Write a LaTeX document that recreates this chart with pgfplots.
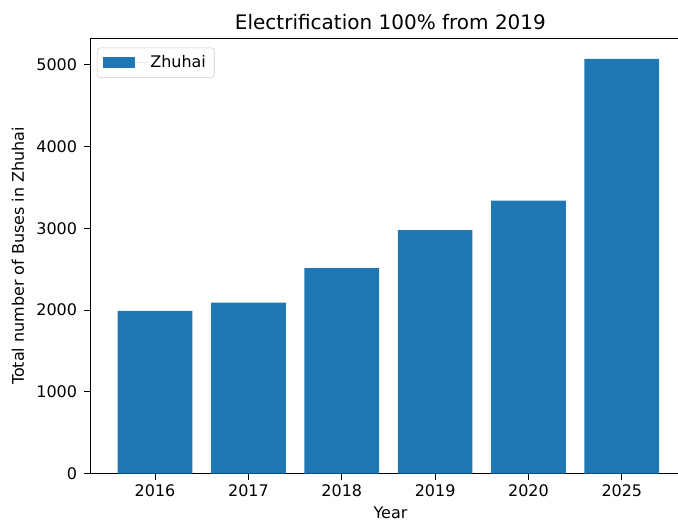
\documentclass[border=0pt]{standalone}
\usepackage{pgfplots}
\pgfplotsset{compat=1.18}
\usepackage{fontspec}
\setmainfont{DejaVu Sans}
\definecolor{barblue}{HTML}{1F77B4}
\begin{document}
\begin{tikzpicture}
\begin{axis}[
  at={(0pt,0pt)}, anchor=south west,
  scale only axis,
  width=432.7pt, height=313.7pt,
  xmin=-0.697, xmax=5.74,
  ymin=0, ymax=5325,
  axis lines*=left,
  axis line style={-, line width=0.7pt},
  xtick={0,1,2,3,4,5},
  xticklabels={2016,2017,2018,2019,2020,2025},
  ytick={0,1000,2000,3000,4000,5000},
  scaled y ticks=false,
  /pgf/number format/assume math mode=true,
  /pgf/number format/1000 sep={},
  tick align=outside,
  major tick length=4.3pt,
  tick style={black, line width=0.7pt},
  ticklabel style={font=\fontsize{11.5}{13}\selectfont},
  yticklabel style={xshift=-1.5pt},
  label style={font=\fontsize{11.5}{13}\selectfont},
  title style={font=\fontsize{14.4}{16}\selectfont, yshift=-3.5pt},
  title={Electrification 100\% from 2019},
  xlabel={Year},
  ylabel={Total number of Buses in Zhuhai},
  xlabel style={yshift=-0.5pt},
  ylabel style={yshift=2pt},
  legend style={at={(0.0115,0.978)}, anchor=north west, draw=black!20, rounded corners=2pt, font=\fontsize{11.5}{13}\selectfont, inner xsep=4pt, inner ysep=3.5pt},
  legend cell align=left,
  clip=false,
]
\addplot[ybar, bar width=0.8, bar shift=0pt, fill=barblue, draw=none,
  legend image code/.code={\fill[barblue, sharp corners] (0pt,-3.95pt) rectangle (23.5pt,3.95pt); \path (0pt,0pt) -- (32.3pt,0pt);}]
  coordinates {(0,1991) (1,2092) (2,2513) (3,2978) (4,3338) (5,5071)};
\addlegendentry{Zhuhai}
\draw[black, line width=0.7pt] (rel axis cs:0,1) -- (rel axis cs:1,1);
\end{axis}
\pgfresetboundingbox
\path[use as bounding box] (-64.8pt,-34.06pt) rectangle (423.4pt,341.1pt);
\end{tikzpicture}
\end{document}
